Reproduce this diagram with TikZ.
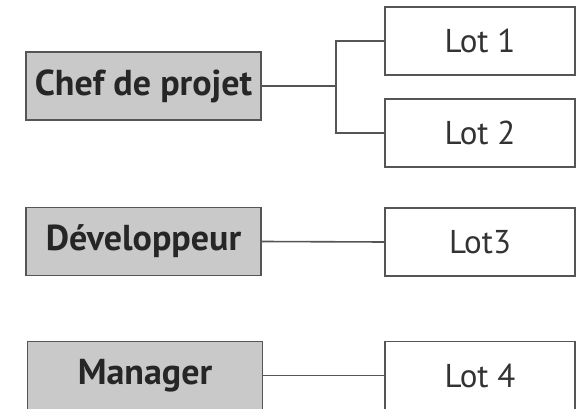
\documentclass[tikz,border=0pt]{standalone}
\usepackage{fontspec}
\setmainfont{PT Sans}
\usepackage{tikz}
\definecolor{boxgray}{HTML}{C9C9C9}
\definecolor{linegray}{HTML}{555555}
\tikzset{
	role/.style={draw=linegray, line width=1.6pt, fill=boxgray, minimum width=235pt, minimum height=68pt, inner sep=0pt, font=\fontsize{36}{38}\selectfont\bfseries, text=black!85},
	lot/.style={draw=linegray, line width=1.4pt, fill=white, minimum width=190pt, minimum height=68pt, inner sep=0pt, font=\fontsize{33}{34}\selectfont, text=black!80},
	link/.style={draw=linegray, line width=1.6pt}
}

\begin{document}
\begin{tikzpicture}[x=1pt, y=-1pt]
		%%%%% START %%%%%
		\useasboundingbox (0, 0) rectangle (576, 409);
		\clip (0, 0) rectangle (576, 409);
		
		\node[role] (chef) at (143.5, 86) {Chef de projet};
		\node[role] (dev) at (143.5, 241.5) {Développeur};
		\node[role] (manager) at (145, 375.5) {Manager};
		
		\node[lot] (lot1) at (480, 41) {Lot 1};
		\node[lot] (lot2) at (480, 133) {Lot 2};
		\node[lot] (lot3) at (480, 242) {Lot3};
		\node[lot] (lot4) at (480, 375.5) {Lot 4};
		
		\coordinate (fork) at (336, 86);
		
		\draw[link] (chef.east) -- (fork);
		\draw[link] (lot1.west) -| (fork) |- (lot2.west);
		\draw[link] (dev.east) -- (lot3.west);
		\draw[link] (manager.east) -- (lot4.west);
		
		%%%%% END %%%%%
	\end{tikzpicture}
\end{document}
